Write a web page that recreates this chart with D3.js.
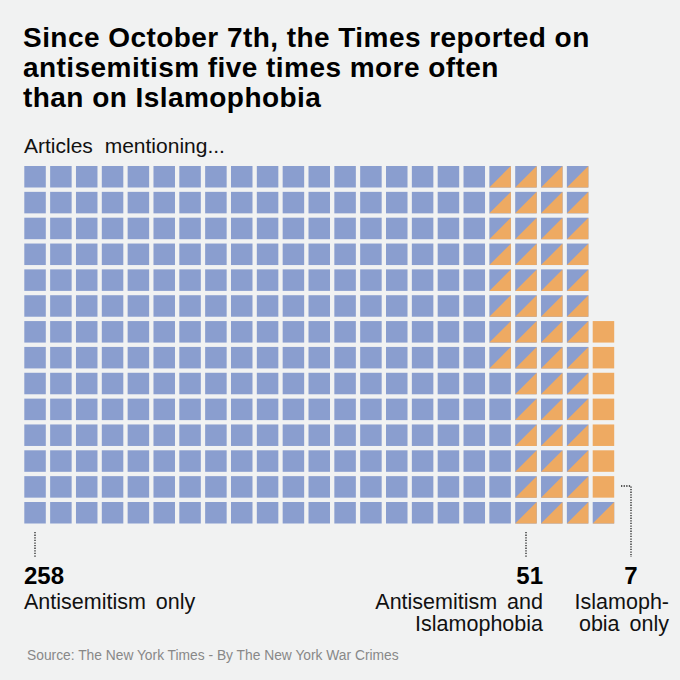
<!DOCTYPE html>
<html>
<head>
<meta charset="utf-8">
<script src="https://cdn.jsdelivr.net/npm/d3@7"></script>
<style>
    body { margin: 0; background: #f1f2f2; }
    svg { display: block; }
</style>
</head>
<body>
<script>
const titleLines = [
    'Since October 7th, the Times reported on',
    'antisemitism five times more often',
    'than on Islamophobia'
];
const subtitle = 'Articles mentioning...';
const categories = ['antisemitism', 'both', 'islamophobia'];
const counts = [258, 51, 7];
const labelLines = [
    ['Antisemitism only'],
    ['Antisemitism and', 'Islamophobia'],
    ['Islamoph-', 'obia only']
];
const source = 'Source: The New York Times - By The New York War Crimes';
const rowsPerColumn = 14;

drawWaffle();

function drawWaffle()
{
    const width = 680;
    const height = 680;
    const blue = '#8a9ecf';
    const orange = '#eeaa62';
    const font = 'Liberation Sans, Arial, sans-serif';

    const svg = d3.select('body')
        .append('svg')
        .attr('width', width)
        .attr('height', height);

    svg.append('rect')
        .attr('width', width)
        .attr('height', height)
        .attr('fill', '#f1f2f2');

    // title
    svg.append('g')
        .selectAll('text')
        .data(titleLines)
        .join('text')
        .attr('x', 23)
        .attr('y', (d, i) => 47 + i * 30)
        .attr('font-family', font)
        .attr('font-weight', 'bold')
        .attr('font-size', 28)
        .attr('letter-spacing', 0.45)
        .attr('fill', '#000')
        .text(d => d);

    svg.append('text')
        .attr('x', 24)
        .attr('y', 153)
        .attr('font-family', font)
        .attr('font-size', 21)
        .attr('word-spacing', 6)
        .attr('fill', '#111')
        .text(subtitle);

    // build one cell per article, filling columns bottom-up
    const cells = [];
    categories.forEach((c, k) =>
    {
        for (let j = 0; j < counts[k]; j++)
        {
            const i = cells.length;
            cells.push({type: c, col: Math.floor(i / rowsPerColumn), row: rowsPerColumn - 1 - i % rowsPerColumn});
        }
    });

    const nCols = d3.max(cells, d => d.col);
    const x = d3.scaleLinear().domain([0, nCols]).range([24.3, 592.7]);
    const y = d3.scaleLinear().domain([0, rowsPerColumn - 1]).range([166, 502]);
    const size = 21.5;

    const g = svg.append('g');

    g.selectAll('rect.cell')
        .data(cells)
        .join('rect')
        .attr('class', 'cell')
        .attr('x', d => x(d.col))
        .attr('y', d => y(d.row))
        .attr('width', size)
        .attr('height', size)
        .attr('fill', d => d.type === 'islamophobia' ? orange : blue);

    g.selectAll('path.half')
        .data(cells.filter(d => d.type === 'both'))
        .join('path')
        .attr('class', 'half')
        .attr('d', d =>
        {
            const x0 = x(d.col), y0 = y(d.row);
            return `M${x0},${y0 + size}L${x0 + size},${y0}L${x0 + size},${y0 + size}Z`;
        })
        .attr('fill', orange);

    // annotations
    const dotted = {stroke: '#222', 'stroke-width': 1.3, 'stroke-dasharray': '1.3,1.3', fill: 'none'};
    const addPath = (d) =>
    {
        const p = svg.append('path').attr('d', d);
        Object.entries(dotted).forEach(([k, v]) => p.attr(k, v));
    };
    addPath('M35,532V557');
    addPath('M526,532V557');
    addPath('M621,486H631V557');

    const annots = [
        {num: counts[0], nx: 24, nAnchor: 'start', lx: 24, lAnchor: 'start', lines: labelLines[0]},
        {num: counts[1], nx: 543, nAnchor: 'end', lx: 543, lAnchor: 'end', lines: labelLines[1]},
        {num: counts[2], nx: 631, nAnchor: 'middle', lx: 669, lAnchor: 'end', lines: labelLines[2]}
    ];

    annots.forEach(a =>
    {
        svg.append('text')
            .attr('x', a.nx)
            .attr('y', 584)
            .attr('text-anchor', a.nAnchor)
            .attr('font-family', font)
            .attr('font-weight', 'bold')
            .attr('font-size', 24)
            .attr('fill', '#000')
            .text(a.num);

        svg.append('g')
            .selectAll('text')
            .data(a.lines)
            .join('text')
            .attr('x', a.lx)
            .attr('y', (d, i) => 609 + i * 22)
            .attr('text-anchor', a.lAnchor)
            .attr('font-family', font)
            .attr('font-size', 21.5)
            .attr('word-spacing', 4)
            .attr('fill', '#111')
            .text(d => d);
    });

    svg.append('text')
        .attr('x', 27)
        .attr('y', 660)
        .attr('font-family', font)
        .attr('font-size', 13.8)
        .attr('fill', '#888')
        .text(source);
}
</script>
</body>
</html>
